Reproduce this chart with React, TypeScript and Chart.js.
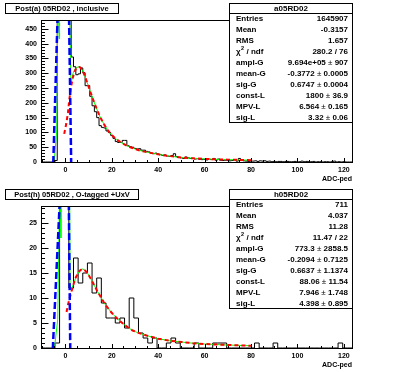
import React, { useEffect, useRef } from 'react';
import { Chart, registerables } from 'chart.js';
Chart.register(...registerables);

const FONT = '"Liberation Sans", Arial, Helvetica, sans-serif';
const W = 396;
const H = 186;

// ---------- shared axis ----------
const xMin = -10.5;
const xMax = 123.5;
const xTickLabels = [0, 20, 40, 60, 80, 100, 120];
const xMinorStep = 5;
const statLabels = ['Entries', 'Mean', 'RMS', 'CHI', 'ampl-G', 'mean-G', 'sig-G', 'const-L', 'MPV-L', 'sig-L'];

// ---------- top panel ----------
const topTitle = 'Post(a) 05RD02 , inclusive';
const topStatsName = 'a05RD02';
const topStatsValues = ['1645907', '-0.3157', '1.657', '280.2 / 76', '9.694e+05 ± 907', '-0.3772 ± 0.0005', '0.6747 ± 0.0004', '1800 ± 36.9', '6.564 ± 0.165', '3.32 ± 0.06'];
const topYMax = 480;
const topYTicks = [0, 50, 100, 150, 200, 250, 300, 350, 400, 450];
const topYMinorStep = 10;
const topBinStart = -10.5;
const topBinWidth = 1;
const topCounts = [
  0, 0, 0, 0, 0, 0, 5, 900, 30000, 500000, 600000, 100000, 2500,
  355, 322, 295, 298, 318, 302, 258, 258, 222, 190, 170, 150, 123, 117, 115, 105, 100, 90,
  80, 69, 66, 66, 73, 73, 55, 52, 50, 46, 44, 45, 40, 40, 36, 34, 30, 28, 30, 27,
  25, 22, 24, 20, 19, 22, 28, 18, 15, 14, 12, 17, 14, 12, 12, 10, 11, 9, 8, 9,
  7, 10, 8, 12, 6, 10, 6, 5, 6, 5, 4, 5, 8, 3, 12, 5, 4, 3, 2, 3,
  3, 4, 2, 4, 3, 4, 2, 3, 1, 2, 1, 2, 2, 1, 2, 2, 1, 1, 2, 1,
  1, 3, 1, 2, 1, 1, 2, 0, 1, 1, 0, 1, 1, 0, 1, 3, 0, 1, 0, 1,
  0, 0, 0,
];
const topGausX = [-5.6, -5.2, -1.0, 0.7, 2.5, 2.9];
const topGausY = [0, 0, 1120, 960, 0, 0];
const topLandauX = [-0.5, 0.4, 1.1, 1.7, 2.3, 3.0, 3.8, 4.6, 5.5, 6.4, 7.3, 8.2, 9.1, 10, 11, 12, 13, 14, 15, 16, 17, 18, 19, 20, 22, 24, 26, 28, 30, 32, 34, 36, 38, 40, 43, 46, 50, 55, 60, 65, 70, 75, 80];
const topLandauY = [95, 130, 166, 211, 245, 278, 302, 316, 322, 320, 310, 295, 275, 255, 232, 210, 190, 170, 152, 137, 123, 111, 100, 91, 77, 66, 57, 50, 44, 39, 35, 32, 29, 26, 22, 19, 15, 12.5, 10.5, 9, 8, 7, 6];
const topTotalX = [-4.8, -3.7, -3.2, -2.65, -2.5, 1.7, 2.4, 3.3, 4.2, 5.0, 5.8, 6.4, 7.3, 8.2, 9.1, 10, 11, 12, 13, 14, 15, 16, 17, 18, 19, 20, 22, 24, 26, 28, 30, 32, 34, 36, 38, 40, 43, 46, 50, 55, 60, 65, 70, 75, 80];
const topTotalY = [0, 109, 560, 416, 560, 560, 262, 300, 315, 320, 322, 320, 310, 295, 275, 255, 232, 210, 190, 170, 152, 137, 123, 111, 100, 91, 77, 66, 57, 50, 44, 39, 35, 32, 29, 26, 22, 19, 15, 12.5, 10.5, 9, 8, 7, 6];

// ---------- bottom panel ----------
const botTitle = 'Post(h) 05RD02 , O-tagged +UxV';
const botStatsName = 'h05RD02';
const botStatsValues = ['711', '4.037', '11.28', '11.47 / 22', '773.3 ± 2858.5', '-0.2094 ± 0.7125', '0.6637 ± 1.1374', '88.06 ± 11.54', '7.946 ± 1.748', '4.398 ± 0.895'];
const botYMax = 28.4;
const botYTicks = [0, 5, 10, 15, 20, 25];
const botYMinorStep = 1;
const botBinStart = -10.5;
const botBinWidth = 2;
const botCounts = [
  0, 0, 0, 1, 150, 160, 12, 18, 13, 15, 17, 11, 14, 9, 6, 6, 5, 6, 4, 10,
  6, 3, 2, 1, 2, 0, 0, 1, 2, 1, 0, 0, 0, 1, 0, 0, 0, 1, 1, 1,
  0, 0, 0, 0, 0, 0, 1, 0, 0, 0, 1, 0, 0, 0, 0, 0, 0, 0, 0, 0,
  0, 0, 0, 0, 1, 0, 0,
];
const botGausX = [-5.8, -5.4, -0.5, 1.08, 2.1, 2.5];
const botGausY = [0, 0, 48, 48, 0, 0];
const botLandauX = [0.5, 1.2, 2.0, 2.8, 3.6, 4.5, 5.5, 6.5, 7.5, 8.5, 9.5, 10.5, 11.5, 12.5, 13.5, 14.5, 15.5, 16.5, 17.5, 18.5, 19.5, 21, 23, 25, 27, 29, 31, 33, 35, 40, 45, 50, 55, 60, 70, 80];
const botLandauY = [7.2, 8.8, 10.2, 11.6, 12.9, 14.1, 15.0, 15.6, 15.8, 15.5, 15.0, 14.2, 13.4, 12.5, 11.6, 10.8, 10.0, 9.2, 8.5, 7.9, 7.3, 6.5, 5.6, 4.8, 4.1, 3.5, 3.1, 2.8, 2.5, 1.85, 1.45, 1.2, 0.95, 0.8, 0.6, 0.45];
const botTotalX = [-4.7, -3.3, -2.2, -1.95, -1.75, 1.8, 2.0, 2.8, 3.6, 4.5, 5.5, 6.5, 7.5, 8.5, 9.5, 10.5, 11.5, 12.5, 13.5, 14.5, 15.5, 16.5, 17.5, 18.5, 19.5, 21, 23, 25, 27, 29, 31, 33, 35, 40, 45, 50, 55, 60, 70, 80];
const botTotalY = [0, 5.7, 40, 22, 40, 40, 12.2, 12.0, 12.9, 14.1, 15.0, 15.6, 15.8, 15.5, 15.0, 14.2, 13.4, 12.5, 11.6, 10.8, 10.0, 9.2, 8.5, 7.9, 7.3, 6.5, 5.6, 4.8, 4.1, 3.5, 3.1, 2.8, 2.5, 1.85, 1.45, 1.2, 0.95, 0.8, 0.6, 0.45];

type PanelCfg = {
  title: string;
  statsName: string;
  statsValues: string[];
  yMax: number;
  yTicks: number[];
  yMinorStep: number;
  binStart: number;
  binWidth: number;
  counts: number[];
  gausX: number[];
  gausY: number[];
  landauX: number[];
  landauY: number[];
  totalX: number[];
  totalY: number[];
  titleBoxRight: number;
};

const topCfg: PanelCfg = {
  title: topTitle, statsName: topStatsName, statsValues: topStatsValues,
  yMax: topYMax, yTicks: topYTicks, yMinorStep: topYMinorStep,
  binStart: topBinStart, binWidth: topBinWidth, counts: topCounts,
  gausX: topGausX, gausY: topGausY, landauX: topLandauX, landauY: topLandauY,
  totalX: topTotalX, totalY: topTotalY, titleBoxRight: 118,
};
const botCfg: PanelCfg = {
  title: botTitle, statsName: botStatsName, statsValues: botStatsValues,
  yMax: botYMax, yTicks: botYTicks, yMinorStep: botYMinorStep,
  binStart: botBinStart, binWidth: botBinWidth, counts: botCounts,
  gausX: botGausX, gausY: botGausY, landauX: botLandauX, landauY: botLandauY,
  totalX: botTotalX, totalY: botTotalY, titleBoxRight: 138,
};

function zip(xs: number[], ys: number[]) {
  return xs.map((x, i) => ({ x, y: ys[i] }));
}

function histPoints(start: number, width: number, counts: number[]) {
  const pts = counts.map((c, i) => ({ x: start + i * width, y: c }));
  pts.push({ x: start + counts.length * width, y: counts[counts.length - 1] });
  return pts;
}

function drawValue(ctx: CanvasRenderingContext2D, text: string, right: number, y: number) {
  const bold = 'bold 8px ' + FONT;
  const normal = '8px ' + FONT;
  const parts = text.split(' ± ');
  if (parts.length === 1) {
    ctx.font = bold;
    ctx.textAlign = 'right';
    ctx.fillText(text, right, y);
    return;
  }
  ctx.textAlign = 'left';
  ctx.font = bold;
  const w2 = ctx.measureText(parts[1]).width;
  const w1 = ctx.measureText(parts[0]).width;
  ctx.font = normal;
  const wpm = ctx.measureText(' ± ').width;
  let x = right - w2 - wpm - w1;
  ctx.font = bold;
  ctx.fillText(parts[0], x, y);
  x += w1;
  ctx.font = normal;
  ctx.fillText(' ± ', x, y);
  x += wpm;
  ctx.font = bold;
  ctx.fillText(parts[1], x, y);
}

function Panel({ cfg }: { cfg: PanelCfg }) {
  const ref = useRef<HTMLCanvasElement>(null);
  useEffect(() => {
    const canvas = ref.current!;
    const framePlugin = {
      id: 'rootFrame',
      afterDraw(chart: any) {
        const ctx: CanvasRenderingContext2D = chart.ctx;
        const { left, right, top, bottom } = chart.chartArea;
        const xs = chart.scales.x;
        const ys = chart.scales.y;
        ctx.save();
        ctx.strokeStyle = '#000';
        ctx.lineWidth = 1;
        ctx.setLineDash([]);
        ctx.strokeRect(left + 0.5, top + 0.5, right - left, bottom - top);
        // y ticks (inside)
        ctx.beginPath();
        for (let v = 0; v <= cfg.yMax + 1e-9; v += cfg.yMinorStep) {
          const isMajor = cfg.yTicks.some((t) => Math.abs(t - v) < 1e-6);
          const py = Math.round(ys.getPixelForValue(v)) + 0.5;
          const len = isMajor ? 7 : 3.5;
          ctx.moveTo(left + 0.5, py);
          ctx.lineTo(left + 0.5 + len, py);
        }
        // x ticks (inside)
        for (let v = -10; v <= xMax; v += xMinorStep) {
          const isMajor = xTickLabels.includes(v);
          const px = Math.round(xs.getPixelForValue(v)) + 0.5;
          const len = isMajor ? 4.5 : 2.5;
          ctx.moveTo(px, bottom + 0.5);
          ctx.lineTo(px, bottom + 0.5 - len);
        }
        ctx.stroke();
        // axis title
        ctx.fillStyle = '#000';
        ctx.font = 'bold 7px ' + FONT;
        ctx.textAlign = 'right';
        ctx.textBaseline = 'middle';
        ctx.fillText('ADC-ped', right, bottom + 17);
        // title box
        ctx.fillStyle = '#fff';
        ctx.fillRect(5.5, 3.5, cfg.titleBoxRight - 5, 10);
        ctx.strokeRect(5.5, 3.5, cfg.titleBoxRight - 5, 10);
        ctx.fillStyle = '#000';
        ctx.font = 'bold 7.5px ' + FONT;
        ctx.textAlign = 'center';
        ctx.fillText(cfg.title, (5.5 + cfg.titleBoxRight + 0.5) / 2, 8.8);
        // stats box
        const sx0 = 229.5, sx1 = right + 0.5, sy0 = 3.5, sy1 = 122.5;
        ctx.fillStyle = '#fff';
        ctx.fillRect(sx0, sy0, sx1 - sx0, sy1 - sy0);
        ctx.strokeRect(sx0, sy0, sx1 - sx0, sy1 - sy0);
        ctx.beginPath();
        ctx.moveTo(sx0, 13.5);
        ctx.lineTo(sx1, 13.5);
        ctx.stroke();
        ctx.fillStyle = '#000';
        ctx.font = 'bold 8px ' + FONT;
        ctx.textAlign = 'center';
        ctx.fillText(cfg.statsName, (sx0 + sx1) / 2, 8.8);
        const rowH = (sy1 - 13.5) / 10;
        statLabels.forEach((lab, i) => {
          const cy = 13.5 + rowH * (i + 0.5) + 0.3;
          ctx.textAlign = 'left';
          ctx.font = 'bold 8px ' + FONT;
          if (lab === 'CHI') {
            ctx.fillText('χ', 236, cy);
            const wc = ctx.measureText('χ').width;
            ctx.font = 'bold 5.5px ' + FONT;
            ctx.fillText('2', 236 + wc + 0.3, cy - 3);
            const w2 = ctx.measureText('2').width;
            ctx.font = 'bold 8px ' + FONT;
            ctx.fillText(' / ndf', 236 + wc + w2 + 0.6, cy);
          } else {
            ctx.fillText(lab, 236, cy);
          }
          drawValue(ctx, cfg.statsValues[i], 348, cy);
        });
        ctx.restore();
      },
    };

    const tickFont = { family: FONT, size: 7, weight: 'bold' as const };
    const chart = new Chart(canvas, {
      type: 'line',
      data: {
        datasets: [
          {
            data: zip(cfg.gausX, cfg.gausY),
            borderColor: '#0000ff',
            borderWidth: 2.5,
            borderDash: [7, 3],
            pointRadius: 0,
            tension: 0,
            fill: false,
            clip: 0 as any,
            order: 1,
          },
          {
            data: zip(cfg.landauX, cfg.landauY),
            borderColor: '#ff0000',
            borderWidth: 2,
            borderDash: [4, 3],
            pointRadius: 0,
            tension: 0,
            fill: false,
            clip: 0 as any,
            order: 2,
          },
          {
            data: zip(cfg.totalX, cfg.totalY),
            borderColor: '#00ff00',
            borderWidth: 1,
            pointRadius: 0,
            tension: 0,
            fill: false,
            clip: 0 as any,
            order: 3,
          },
          {
            data: histPoints(cfg.binStart, cfg.binWidth, cfg.counts),
            borderColor: '#000000',
            borderWidth: 1,
            stepped: true,
            pointRadius: 0,
            tension: 0,
            fill: false,
            clip: 0 as any,
            order: 4,
          },
        ],
      },
      options: {
        responsive: false,
        animation: false,
        events: [],
        layout: { padding: { left: 0, top: 20, right: W - 352, bottom: 0 } },
        plugins: { legend: { display: false }, tooltip: { enabled: false }, title: { display: false } },
        scales: {
          x: {
            type: 'linear',
            min: xMin,
            max: xMax,
            grid: { display: false, drawTicks: false },
            border: { display: false },
            ticks: { font: tickFont, color: '#000', padding: 4, autoSkip: false, maxRotation: 0 },
            afterBuildTicks: (s: any) => {
              s.ticks = xTickLabels.map((v) => ({ value: v }));
            },
            afterFit: (s: any) => {
              s.height = 24;
            },
          },
          y: {
            type: 'linear',
            min: 0,
            max: cfg.yMax,
            grid: { display: false, drawTicks: false },
            border: { display: false },
            ticks: { font: tickFont, color: '#000', padding: 4, autoSkip: false },
            afterBuildTicks: (s: any) => {
              s.ticks = cfg.yTicks.map((v) => ({ value: v }));
            },
            afterFit: (s: any) => {
              s.width = 41;
            },
          },
        },
      },
      plugins: [framePlugin],
    } as any);
    return () => chart.destroy();
  }, [cfg]);
  return <canvas ref={ref} width={W} height={H} style={{ display: 'block', width: W, height: H }} />;
}

export default function App() {
  return (
    <div style={{ position: 'absolute', left: 0, top: 0, width: W, height: 2 * H, background: '#fff' }}>
      <Panel cfg={topCfg} />
      <Panel cfg={botCfg} />
    </div>
  );
}
